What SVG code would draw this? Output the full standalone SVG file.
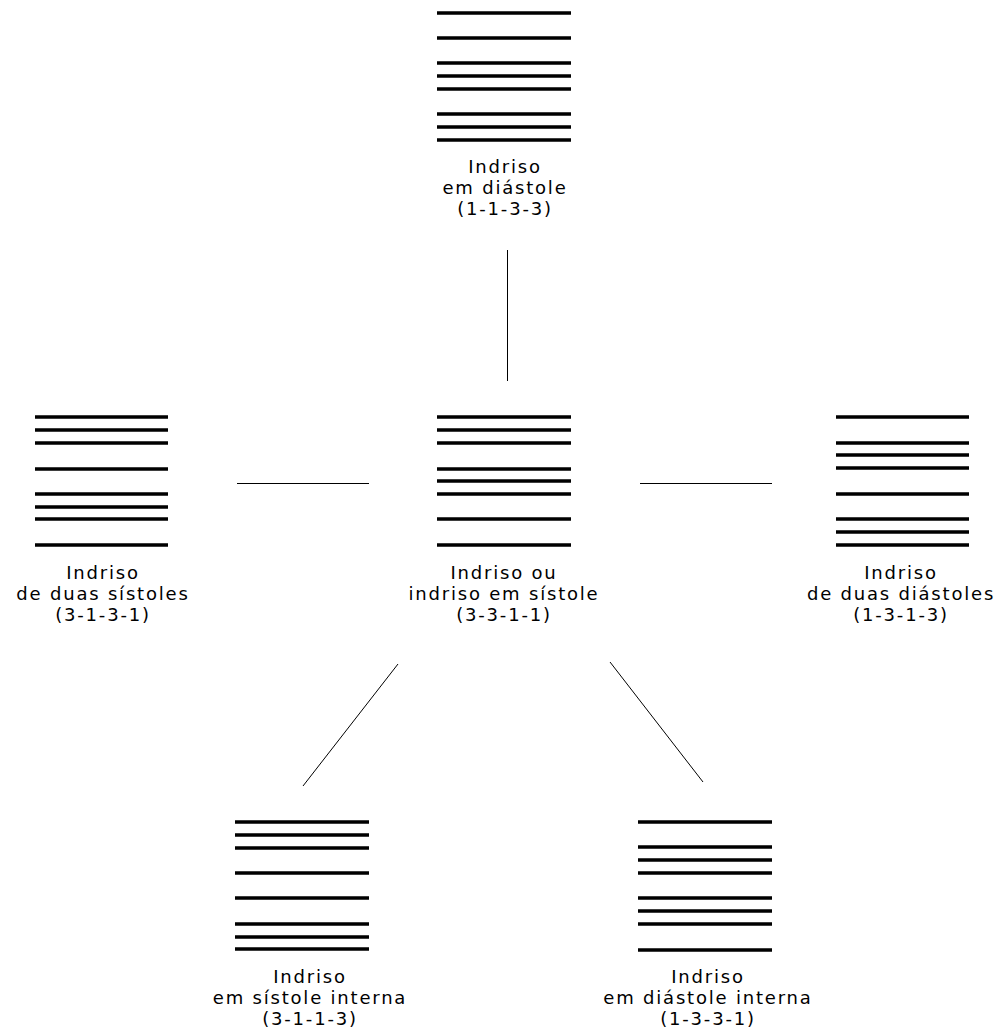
<svg xmlns="http://www.w3.org/2000/svg" width="996" height="1030" viewBox="0 0 996 1030">
<style>
.bar{stroke:#000;stroke-width:3.5;fill:none}
.conn{stroke:#000;stroke-width:1;fill:none}
text{font-family:"DejaVu Sans","Verdana",sans-serif;font-size:18px;fill:#000;text-anchor:middle;letter-spacing:1.8px}
</style>
<rect width="996" height="1030" fill="#fff"/>
<g id="connectors">
<path class="conn" d="M507.5 250V381"/>
<path class="conn" d="M237 483.5H369"/>
<path class="conn" d="M640 483.5H772"/>
<path class="conn" d="M398 664L303 786"/>
<path class="conn" d="M610 662L703 782"/>
</g>
<g id="node-top">
<path class="bar" d="M437 13H571M437 38H571M437 63H571M437 76H571M437 89H571M437 114H571M437 127H571M437 140H571"/>
<text x="505" y="173">Indriso</text>
<text x="505" y="194">em diástole</text>
<text x="505" y="215">(1-1-3-3)</text>
</g>
<g id="node-left">
<path class="bar" d="M35 417H168M35 430H168M35 443H168M35 469H168M35 494H168M35 507H168M35 519H168M35 545H168"/>
<text x="103" y="579">Indriso</text>
<text x="103" y="600">de duas sístoles</text>
<text x="103" y="621">(3-1-3-1)</text>
</g>
<g id="node-center">
<path class="bar" d="M437 417H571M437 430H571M437 443H571M437 469H571M437 481H571M437 494H571M437 519H571M437 545H571"/>
<text x="504" y="579">Indriso ou</text>
<text x="504" y="600">indriso em sístole</text>
<text x="504" y="621">(3-3-1-1)</text>
</g>
<g id="node-right">
<path class="bar" d="M836 417H969M836 443H969M836 455H969M836 468H969M836 494H969M836 519H969M836 532H969M836 545H969"/>
<text x="901" y="579">Indriso</text>
<text x="901" y="600">de duas diástoles</text>
<text x="901" y="621">(1-3-1-3)</text>
</g>
<g id="node-bottom-left">
<path class="bar" d="M235 822H369M235 835H369M235 848H369M235 873H369M235 898H369M235 924H369M235 937H369M235 949H369"/>
<text x="310" y="983">Indriso</text>
<text x="310" y="1004">em sístole interna</text>
<text x="310" y="1025">(3-1-1-3)</text>
</g>
<g id="node-bottom-right">
<path class="bar" d="M638 822H772M638 847H772M638 860H772M638 873H772M638 898H772M638 911H772M638 924H772M638 950H772"/>
<text x="708" y="983">Indriso</text>
<text x="708" y="1004">em diástole interna</text>
<text x="708" y="1025">(1-3-3-1)</text>
</g>
</svg>
